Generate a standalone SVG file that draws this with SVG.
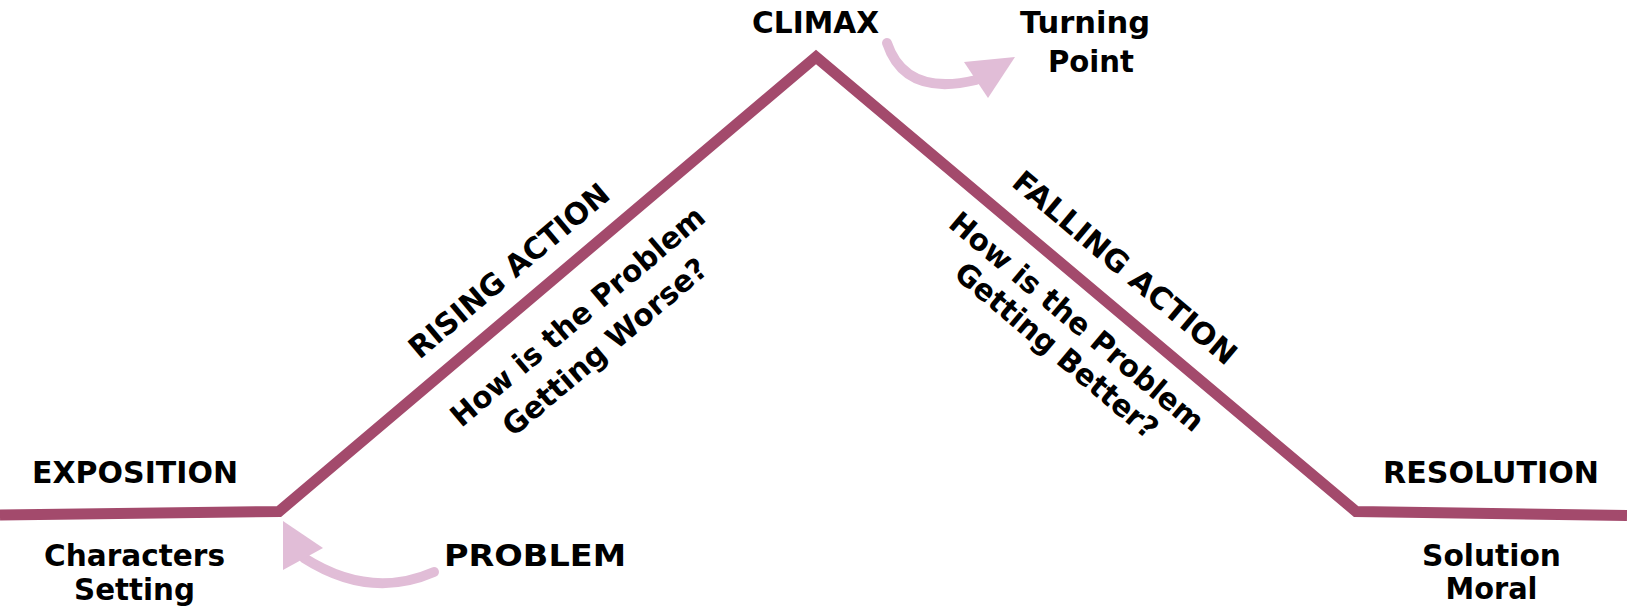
<svg xmlns="http://www.w3.org/2000/svg" width="1627" height="614" viewBox="0 0 1627 614">
<style>
.t{font-family:"DejaVu Sans","Liberation Sans",sans-serif;font-weight:700;font-size:30px;fill:#000;text-anchor:middle}
.plot{fill:none;stroke:#A34A6C;stroke-width:11;stroke-linejoin:miter}
.arr{fill:none;stroke:#E1BDD7;stroke-width:10;stroke-linecap:round}
.head{fill:#E1BDD7}
</style>
<rect width="1627" height="614" fill="#fff"/>
<g id="connectors">
<polyline class="plot" points="0,515 279,511.5 816,57 1356,511.5 1627,515.5"/>
<path class="arr" d="M434,572 Q370,600 304,558"/>
<polygon class="head" points="283,521 323,548 283,570"/>
<path class="arr" d="M887,43 Q905,97 976,80"/>
<polygon class="head" points="1015,57 964,62 988,98"/>
</g>
<g id="exposition"><text class="t" x="135" y="483" textLength="206" lengthAdjust="spacingAndGlyphs">EXPOSITION</text></g>
<g id="characters"><text class="t" x="134.5" y="566" textLength="181" lengthAdjust="spacingAndGlyphs">Characters</text><text class="t" x="134.5" y="600" textLength="121" lengthAdjust="spacingAndGlyphs">Setting</text></g>
<g id="problem"><text class="t" x="535" y="566" textLength="182" lengthAdjust="spacingAndGlyphs">PROBLEM</text></g>
<g id="climax"><text class="t" x="815.5" y="33" textLength="127" lengthAdjust="spacingAndGlyphs">CLIMAX</text></g>
<g id="turning-point"><text class="t" x="1085" y="33" textLength="130" lengthAdjust="spacingAndGlyphs">Turning</text><text class="t" x="1091" y="72" textLength="86" lengthAdjust="spacingAndGlyphs">Point</text></g>
<g id="resolution"><text class="t" x="1491" y="483" textLength="216" lengthAdjust="spacingAndGlyphs">RESOLUTION</text></g>
<g id="solution"><text class="t" x="1491.5" y="566" textLength="139" lengthAdjust="spacingAndGlyphs">Solution</text><text class="t" x="1491.5" y="599" textLength="92" lengthAdjust="spacingAndGlyphs">Moral</text></g>
<g id="rising-action" transform="translate(279,511.5) rotate(-40.2)">
<text class="t" x="331" y="-25" textLength="252" lengthAdjust="spacingAndGlyphs">RISING ACTION</text>
</g>
<g id="rising-question" transform="translate(279,511.5) rotate(-40.2)">
<text class="t" x="354" y="54" textLength="322" lengthAdjust="spacingAndGlyphs">How is the Problem</text>
<text class="t" x="355" y="95" textLength="257" lengthAdjust="spacingAndGlyphs">Getting Worse?</text>
</g>
<g id="falling-action" transform="translate(816,57) rotate(40.06)">
<text class="t" x="372" y="-27" textLength="282" lengthAdjust="spacingAndGlyphs">FALLING ACTION</text>
</g>
<g id="falling-question" transform="translate(816,57) rotate(40.06)">
<text class="t" x="370" y="45" textLength="322" lengthAdjust="spacingAndGlyphs">How is the Problem</text>
<text class="t" x="373" y="80" textLength="255" lengthAdjust="spacingAndGlyphs">Getting Better?</text>
</g>
</svg>
